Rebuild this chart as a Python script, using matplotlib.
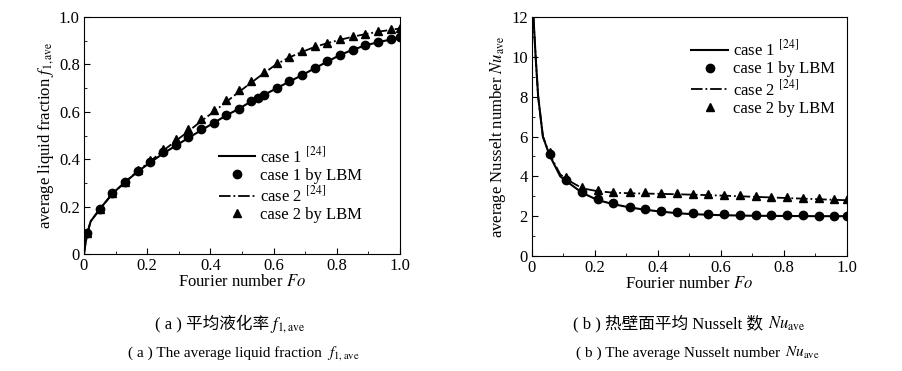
import matplotlib
matplotlib.use("Agg")
import matplotlib.pyplot as plt
import numpy as np

plt.rcParams['font.family'] = ['Liberation Serif', 'Noto Sans CJK SC', 'DejaVu Sans']
plt.rcParams['mathtext.fontset'] = 'stix'

# (a) average liquid fraction
fo_a_line1 = [0, 0.005, 0.011, 0.021, 0.05, 0.09, 0.13, 0.17, 0.21, 0.25, 0.29, 0.33, 0.37, 0.41,
              0.45, 0.49, 0.53, 0.57, 0.61, 0.65, 0.69, 0.73, 0.77, 0.81, 0.85, 0.89, 0.93, 0.97, 1.0]
fl_line1 = [0, 0.048, 0.09, 0.138, 0.19, 0.255, 0.304, 0.348, 0.387, 0.424, 0.457, 0.49, 0.522, 0.553,
            0.585, 0.613, 0.645, 0.672, 0.7, 0.728, 0.755, 0.784, 0.812, 0.84, 0.862, 0.88, 0.894, 0.905, 0.914]
fo_a_line2 = [0, 0.005, 0.011, 0.021, 0.05, 0.09, 0.13, 0.17, 0.21, 0.25, 0.29, 0.33, 0.37, 0.41,
              0.45, 0.49, 0.53, 0.57, 0.61, 0.65, 0.69, 0.73, 0.77, 0.81, 0.85, 0.89, 0.93, 0.97, 1.0]
fl_line2 = [0, 0.048, 0.09, 0.138, 0.19, 0.255, 0.304, 0.35, 0.392, 0.436, 0.477, 0.518, 0.56, 0.6,
            0.642, 0.684, 0.724, 0.764, 0.802, 0.83, 0.853, 0.874, 0.89, 0.904, 0.917, 0.928, 0.938, 0.946, 0.952]

fo_a_pts1 = [0.01, 0.05, 0.09, 0.13, 0.17, 0.21, 0.25, 0.29, 0.33, 0.37, 0.41, 0.45, 0.49, 0.53,
             0.55, 0.57, 0.61, 0.65, 0.69, 0.73, 0.77, 0.81, 0.85, 0.89, 0.93, 0.97, 1.0]
fl_pts1 = [0.088, 0.19, 0.257, 0.306, 0.352, 0.39, 0.432, 0.46, 0.495, 0.526, 0.555, 0.589, 0.614, 0.647,
           0.659, 0.673, 0.701, 0.729, 0.755, 0.785, 0.813, 0.842, 0.863, 0.881, 0.895, 0.906, 0.916]
fo_a_pts2 = [0.01, 0.05, 0.09, 0.13, 0.17, 0.21, 0.25, 0.29, 0.33, 0.37, 0.41, 0.45, 0.49, 0.53,
             0.57, 0.61, 0.65, 0.69, 0.73, 0.77, 0.81, 0.85, 0.89, 0.93, 0.97, 1.0]
fl_pts2 = [0.088, 0.19, 0.257, 0.306, 0.355, 0.397, 0.443, 0.484, 0.527, 0.568, 0.607, 0.649, 0.691, 0.729,
           0.769, 0.808, 0.832, 0.856, 0.878, 0.892, 0.906, 0.92, 0.93, 0.94, 0.948, 0.954]

# (b) average Nusselt number
fo_b_line1 = [0.005, 0.012, 0.02, 0.035, 0.055, 0.09, 0.11, 0.16, 0.21, 0.26, 0.31, 0.36, 0.41,
              0.46, 0.51, 0.6, 0.7, 0.8, 0.9, 1.0]
nu_line1 = [12.0, 10.0, 8.0, 6.0, 5.1, 4.0, 3.75, 3.17, 2.8, 2.6, 2.44, 2.32, 2.23,
            2.15, 2.1, 2.05, 2.02, 2.01, 2.0, 2.0]
fo_b_line2 = [0.005, 0.012, 0.02, 0.035, 0.055, 0.09, 0.11, 0.16, 0.21, 0.26, 0.31, 0.41,
              0.51, 0.61, 0.71, 0.81, 0.91, 1.0]
nu_line2 = [12.0, 10.0, 8.0, 6.0, 5.15, 4.1, 3.85, 3.4, 3.25, 3.18, 3.15, 3.12,
            3.08, 3.03, 2.97, 2.91, 2.85, 2.8]

fo_b_pts = [0.056, 0.108, 0.158, 0.209, 0.259, 0.31, 0.36, 0.41, 0.46, 0.51, 0.56, 0.61,
            0.66, 0.71, 0.76, 0.81, 0.86, 0.91, 0.96, 1.0]
nu_pts1 = [5.13, 3.8, 3.2, 2.85, 2.64, 2.48, 2.36, 2.27, 2.2, 2.16, 2.13, 2.1,
           2.08, 2.06, 2.05, 2.04, 2.04, 2.03, 2.03, 2.03]
nu_pts2 = [5.2, 3.95, 3.48, 3.3, 3.23, 3.2, 3.19, 3.17, 3.15, 3.12, 3.1, 3.07,
           3.04, 3.01, 2.98, 2.96, 2.93, 2.91, 2.88, 2.87]

labels = [r"case 1 $^{\mathrm{[24]}}$", "case 1 by LBM", r"case 2 $^{\mathrm{[24]}}$", "case 2 by LBM"]

fig = plt.figure(figsize=(9.03, 3.71), dpi=100)
ax1 = fig.add_axes([0.093, 0.315, 0.350, 0.639])
ax2 = fig.add_axes([0.589, 0.310, 0.349, 0.644])


def style(ax):
    ax.tick_params(which='both', direction='in', labelsize=12, pad=3)
    ax.tick_params(which='major', length=4)
    ax.tick_params(which='minor', length=2)
    for s in ax.spines.values():
        s.set_linewidth(0.8)


# left
ax1.plot(fo_a_line1, fl_line1, '-', color='black', lw=1.5)
ax1.plot(fo_a_pts1, fl_pts1, 'o', color='black', ms=6, ls='none')
ax1.plot(fo_a_line2, fl_line2, '-.', color='black', lw=1.3)
ax1.plot(fo_a_pts2, fl_pts2, '^', color='black', ms=6, ls='none')
ax1.set_xlim(0, 1.0)
ax1.set_ylim(0, 1.0)
ax1.set_xticks(np.arange(0, 1.01, 0.2))
ax1.set_xticklabels(['0', '0.2', '0.4', '0.6', '0.8', '1.0'])
ax1.set_yticks(np.arange(0, 1.01, 0.2))
ax1.set_yticklabels(['0', '0.2', '0.4', '0.6', '0.8', '1.0'])
ax1.set_xticks(np.arange(0.1, 1.0, 0.2), minor=True)
ax1.set_yticks(np.arange(0.1, 1.0, 0.2), minor=True)
ax1.set_xlabel(r"Fourier number $\mathit{Fo}$", fontsize=12, labelpad=0)
ax1.set_ylabel(r"average liquid fraction $f_{1,\mathrm{ave}}$", fontsize=12, labelpad=2)
style(ax1)
ax1.legend(labels, loc='upper left', bbox_to_anchor=(0.4, 0.49), frameon=False, fontsize=12,
           handlelength=2.2, handletextpad=0.3, labelspacing=0.1, borderpad=0)

# right
ax2.plot(fo_b_line1, nu_line1, '-', color='black', lw=1.5)
ax2.plot(fo_b_pts, nu_pts1, 'o', color='black', ms=6, ls='none')
ax2.plot(fo_b_line2, nu_line2, '-.', color='black', lw=1.3)
ax2.plot(fo_b_pts, nu_pts2, '^', color='black', ms=6, ls='none')
ax2.set_xlim(0, 1.0)
ax2.set_ylim(0, 12)
ax2.set_xticks(np.arange(0, 1.01, 0.2))
ax2.set_xticklabels(['0', '0.2', '0.4', '0.6', '0.8', '1.0'])
ax2.set_yticks(np.arange(0, 12.1, 2))
ax2.set_xticks(np.arange(0.1, 1.0, 0.2), minor=True)
ax2.set_yticks(np.arange(1, 12, 2), minor=True)
ax2.set_xlabel(r"Fourier number $\mathit{Fo}$", fontsize=12, labelpad=0)
ax2.set_ylabel(r"average Nusselt number $\mathit{Nu}_{\mathrm{ave}}$", fontsize=12, labelpad=2)
style(ax2)
ax2.legend(labels, loc='upper left', bbox_to_anchor=(0.48, 0.94), frameon=False, fontsize=12,
           handlelength=2.2, handletextpad=0.3, labelspacing=0.1, borderpad=0)

# captions: Chinese part as plain text, subscripted symbol as mathtext next to it
cap_font = ['Liberation Serif', 'Noto Sans CJK SC']
fig.text(0.298, 0.115, "( a ) 平均液化率", ha='right', va='baseline', fontsize=12, family=cap_font)
fig.text(0.299, 0.115, r"$f_{1,\mathrm{ave}}$", ha='left', va='baseline', fontsize=12)
fig.text(0.361, 0.038, "( a ) The average liquid fraction ", ha='right', va='baseline', fontsize=11,
         family=cap_font)
fig.text(0.362, 0.038, r"$f_{1,\mathrm{ave}}$", ha='left', va='baseline', fontsize=11)
fig.text(0.850, 0.115, "( b ) 热壁面平均 Nusselt 数 ", ha='right', va='baseline', fontsize=12, family=cap_font)
fig.text(0.851, 0.115, r"$\mathit{Nu}_{\mathrm{ave}}$", ha='left', va='baseline', fontsize=12)
fig.text(0.868, 0.038, "( b ) The average Nusselt number ", ha='right', va='baseline', fontsize=11,
         family=cap_font)
fig.text(0.869, 0.038, r"$\mathit{Nu}_{\mathrm{ave}}$", ha='left', va='baseline', fontsize=11)

fig.savefig("out.png", dpi=100)
